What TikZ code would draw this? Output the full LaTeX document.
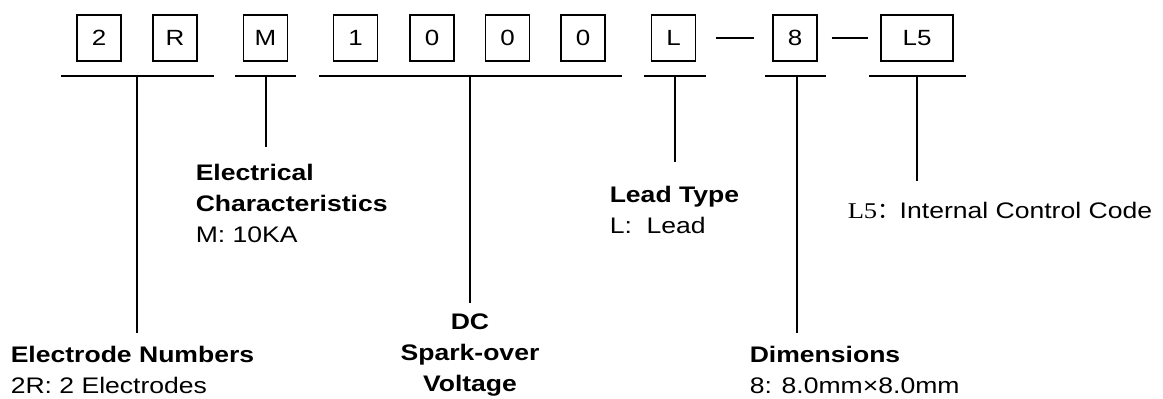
\documentclass[tikz,border=0pt]{standalone}
\usepackage{fontspec}
\setmainfont{Liberation Sans}[FakeStretch=1.18]
\newfontfamily\serifcode{Liberation Serif}[FakeStretch=1.18]
\newfontfamily\cjk{Noto Sans CJK SC}
\begin{document}
\begin{tikzpicture}[x=0.5pt,y=-0.5pt,line width=0.75pt]
      \useasboundingbox (0,0) rectangle (1163,398);

      % code boxes
      \begin{scope}[every node/.style={draw,line width=0.65pt,minimum width=22pt,minimum height=23pt,inner sep=0pt,font=\fontsize{11}{13}\selectfont}]
        \node (n2)  at (99,38)    {2};
        \node (nR)  at (175,38)   {R};
        \node (nM)  at (265.5,38) {M};
        \node (n1)  at (355.5,38) {1};
        \node (n0a) at (432,38)   {0};
        \node (n0b) at (507.5,38) {0};
        \node (n0c) at (583,38)   {0};
        \node (nL)  at (673.5,38) {L};
        \node (n8)  at (795,38)   {8};
        \node[minimum width=36pt] (nL5) at (917,38) {L5};
      \end{scope}

      \path (nL) edge[draw,shorten <=10pt,shorten >=9pt] (n8);
      \path (n8) edge[draw,shorten <=7pt,shorten >=6pt] (nL5);

      % underlines and leaders
      \coordinate (a1) at (61,76);  \coordinate (b1) at (214,76);
      \coordinate (t1) at (137,76); \coordinate (e1) at (137,333);
      \coordinate (a2) at (235,76); \coordinate (b2) at (296,76);
      \coordinate (t2) at (266,76); \coordinate (e2) at (266,147);
      \coordinate (a3) at (319,76); \coordinate (b3) at (622,76);
      \coordinate (t3) at (470,76); \coordinate (e3) at (470,303);
      \coordinate (a4) at (644,76); \coordinate (b4) at (706,76);
      \coordinate (t4) at (675,76); \coordinate (e4) at (675,162);
      \coordinate (a5) at (765,76); \coordinate (b5) at (826,76);
      \coordinate (t5) at (797,76); \coordinate (e5) at (797,333);
      \coordinate (a6) at (869,76); \coordinate (b6) at (966,76);
      \coordinate (t6) at (917,76); \coordinate (e6) at (917,181);

      \foreach \i in {1,...,6} {
        \draw (a\i) -- (b\i);
        \draw (t\i) -- (e\i);
      }

      % descriptions
      \begin{scope}[every node/.style={inner sep=0pt,align=left,anchor=north west,font=\fontsize{11.25}{15.5}\selectfont}]
        \node (elec) at (10,345)  {\textbf{Electrode Numbers}\\2R: 2 Electrodes};
        \node (char) at (195,163) {\textbf{Electrical}\\\textbf{Characteristics}\\M: 10KA};
        \node[align=center,anchor=north,font=\fontsize{11.25}{15.5}\selectfont\bfseries] (volt) at (470,313) {DC\\Spark-over\\Voltage};
        \node (lead) at (609,185) {\textbf{Lead Type}\\L:\ \ Lead};
        \node (dims) at (749,345) {\textbf{Dimensions}\\8: 8.0mm×8.0mm};
        \node[anchor=base west] (code) at (847,218) {{\serifcode L5}{\cjk ：}Internal Control Code};
      \end{scope}

    \end{tikzpicture}
\end{document}
